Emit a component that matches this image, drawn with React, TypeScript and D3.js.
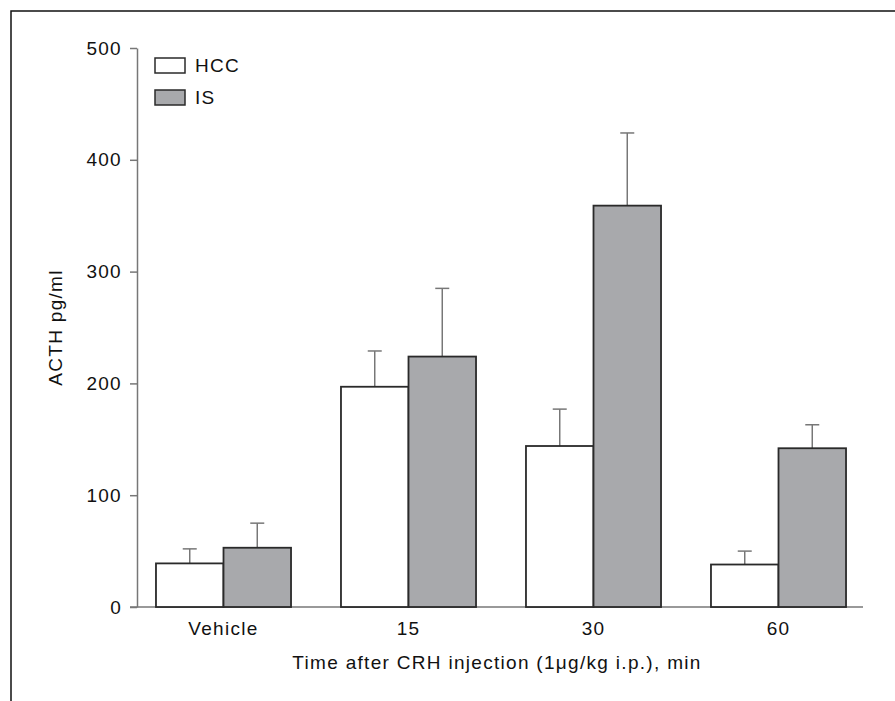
import React, { useEffect, useRef } from 'react';
import * as d3 from 'd3';

const categories = ['Vehicle', '15', '30', '60'];
const seriesNames = ['HCC', 'IS'];
const hccValues = [39, 197, 144, 38];
const hccErrors = [52, 229, 177, 50];
const isValues = [53, 224, 359, 142];
const isErrors = [75, 285, 424, 163];
const yTicks = [0, 100, 200, 300, 400, 500];

interface BarDatum {
  category: string;
  series: string;
  value: number;
  upper: number;
}

const fills: Record<string, string> = { HCC: '#ffffff', IS: '#a8a9ac' };
const FONT = '"Liberation Sans", Arial, sans-serif';
const FS = '19px';
const LS = '1.3px';

const App: React.FC = () => {
  const svgRef = useRef<SVGSVGElement>(null);

  useEffect(() => {
    if (!svgRef.current) return;
    const svg = d3.select(svgRef.current);
    svg.selectAll('*').remove();

    const bars: BarDatum[] = [];
    categories.forEach((c, i) => {
      bars.push({ category: c, series: 'HCC', value: hccValues[i], upper: hccErrors[i] });
      bars.push({ category: c, series: 'IS', value: isValues[i], upper: isErrors[i] });
    });

    // outer frame (top + left rule only)
    svg.append('path')
      .attr('d', 'M11,701 L11,11 L895,11')
      .attr('fill', 'none')
      .attr('stroke', '#111')
      .attr('stroke-width', 1.5);

    const x0 = d3.scaleBand<string>()
      .domain(categories)
      .range([131, 871])
      .paddingInner(0.27)
      .paddingOuter(0.135);

    const x1 = d3.scaleBand<string>()
      .domain(seriesNames)
      .range([0, x0.bandwidth()]);

    const y = d3.scaleLinear().domain([0, 500]).range([607, 48]);

    // y axis
    const yAxis = svg.append('g')
      .attr('transform', 'translate(137,0)')
      .call(d3.axisLeft(y).tickValues(yTicks).tickSize(7).tickSizeOuter(0).tickPadding(8));
    yAxis.select('.domain').attr('stroke', '#777').attr('stroke-width', 1.5);
    yAxis.selectAll('.tick line').attr('stroke', '#777').attr('stroke-width', 1.5);
    yAxis.selectAll('.tick text')
      .style('font-size', FS)
      .style('font-family', FONT)
      .style('letter-spacing', LS)
      .attr('fill', '#111');

    // x baseline
    svg.append('line')
      .attr('x1', 130).attr('x2', 863)
      .attr('y1', y(0)).attr('y2', y(0))
      .attr('stroke', '#777').attr('stroke-width', 1.5);

    // category labels
    svg.selectAll('.cat')
      .data(categories)
      .enter()
      .append('text')
      .attr('class', 'cat')
      .attr('x', d => x0(d)! + x0.bandwidth() / 2)
      .attr('y', 635)
      .attr('text-anchor', 'middle')
      .style('font-size', FS)
      .style('font-family', FONT)
      .style('letter-spacing', LS)
      .attr('fill', '#111')
      .text(d => d);

    // error bars (drawn first, bars cover the lower part)
    const err = svg.append('g');
    bars.forEach(d => {
      const cx = x0(d.category)! + x1(d.series)! + x1.bandwidth() / 2;
      err.append('line')
        .attr('x1', cx).attr('x2', cx)
        .attr('y1', y(d.value)).attr('y2', y(d.upper))
        .attr('stroke', '#777').attr('stroke-width', 1.5);
      err.append('line')
        .attr('x1', cx - 7).attr('x2', cx + 7)
        .attr('y1', y(d.upper)).attr('y2', y(d.upper))
        .attr('stroke', '#777').attr('stroke-width', 1.5);
    });

    svg.selectAll('.bar')
      .data(bars)
      .enter()
      .append('rect')
      .attr('class', 'bar')
      .attr('x', d => x0(d.category)! + x1(d.series)!)
      .attr('y', d => y(d.value))
      .attr('width', x1.bandwidth())
      .attr('height', d => y(0) - y(d.value))
      .attr('fill', d => fills[d.series])
      .attr('stroke', '#2a2a2a')
      .attr('stroke-width', 1.8);

    // legend
    const legend = svg.append('g');
    seriesNames.forEach((s, i) => {
      const ly = 58 + i * 32;
      legend.append('rect')
        .attr('x', 155).attr('y', ly)
        .attr('width', 30).attr('height', 15)
        .attr('fill', fills[s])
        .attr('stroke', '#2a2a2a')
        .attr('stroke-width', 1.5);
      legend.append('text')
        .attr('x', 195).attr('y', ly + 14)
        .style('font-size', FS)
        .style('font-family', FONT)
        .style('letter-spacing', LS)
        .attr('fill', '#111')
        .text(s);
    });

    // axis titles
    svg.append('text')
      .attr('transform', `translate(62,${(y(0) + y(500)) / 2}) rotate(-90)`)
      .attr('text-anchor', 'middle')
      .style('font-size', FS)
      .style('font-family', FONT)
      .style('letter-spacing', LS)
      .attr('fill', '#111')
      .text('ACTH pg/ml');

    svg.append('text')
      .attr('x', 497)
      .attr('y', 669)
      .attr('text-anchor', 'middle')
      .style('font-size', FS)
      .style('font-family', FONT)
      .style('letter-spacing', LS)
      .attr('fill', '#111')
      .text('Time after CRH injection (1μg/kg i.p.), min');
  }, []);

  return (
    <div style={{ position: 'absolute', left: 0, top: 0, width: 895, height: 701, background: '#fff' }}>
      <svg ref={svgRef} width={895} height={701} style={{ display: 'block' }}></svg>
    </div>
  );
};

export default App;
